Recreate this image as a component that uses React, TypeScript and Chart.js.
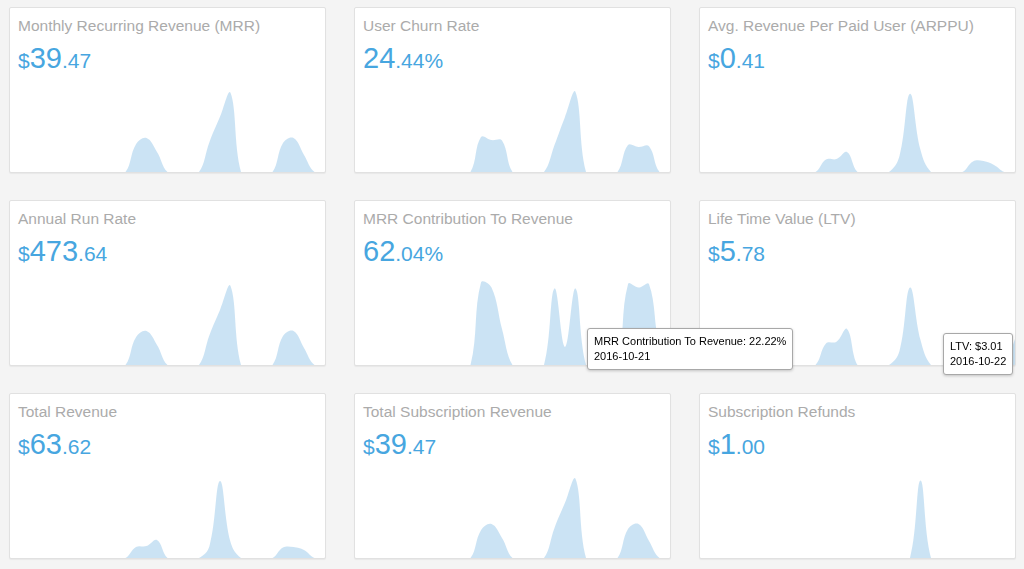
import React, { useEffect, useRef } from "react";
import { Chart, registerables } from "chart.js";

Chart.register(...registerables);

const dates = [
  "2016-09-22", "2016-09-23", "2016-09-24", "2016-09-25", "2016-09-26", "2016-09-27",
  "2016-09-28", "2016-09-29", "2016-09-30", "2016-10-01", "2016-10-02", "2016-10-03",
  "2016-10-04", "2016-10-05", "2016-10-06", "2016-10-07", "2016-10-08", "2016-10-09",
  "2016-10-10", "2016-10-11", "2016-10-12", "2016-10-13", "2016-10-14", "2016-10-15",
  "2016-10-16", "2016-10-17", "2016-10-18", "2016-10-19", "2016-10-20", "2016-10-21",
  "2016-10-22",
];

const mrrValues = [0, 0, 0, 0, 0, 0, 0, 0, 0, 0, 0, 0, 3.37, 4.11, 2.43, 0, 0, 0, 0, 3.64, 6.67, 9.57, 0, 0, 0, 0, 3.5, 4.11, 2.07, 0, 0];
const churnValues = [0, 0, 0, 0, 0, 0, 0, 0, 0, 0, 0, 0, 24.4, 22.3, 22.0, 0, 0, 0, 0, 18.8, 38.4, 55.8, 0, 0, 0, 0, 18.8, 17.4, 18.0, 0, 0];
const arppuValues = [0, 0, 0, 0, 0, 0, 0, 0, 0, 0, 0, 0, 0.32, 0.33, 0.51, 0, 0, 0, 0, 0.41, 2.0, 0.56, 0, 0, 0, 0, 0.27, 0.28, 0.18, 0, 0];
const arrValues = [0, 0, 0, 0, 0, 0, 0, 0, 0, 0, 0, 0, 40.44, 49.32, 29.16, 0, 0, 0, 0, 43.68, 80.04, 114.84, 0, 0, 0, 0, 42.0, 49.32, 24.84, 0, 0];
const mrrContributionValues = [0, 0, 0, 0, 0, 0, 0, 0, 0, 0, 0, 0, 96, 90, 42, 0, 0, 0, 0, 89, 21, 89, 0, 0, 0, 0, 94, 90, 94, 22.22, 0];
const ltvValues = [0, 0, 0, 0, 0, 0, 0, 0, 0, 0, 0, 0, 2.5, 2.7, 4.2, 0, 0, 0, 0, 1.63, 9.0, 2.9, 0, 0, 0, 0, 1.9, 2.0, 1.6, 0, 3.01];
const totalRevenueValues = [0, 0, 0, 0, 0, 0, 0, 0, 0, 0, 0, 0, 3.99, 4.35, 6.52, 0, 0, 0, 0, 4.35, 27.9, 5.8, 0, 0, 0, 0, 3.8, 3.99, 2.9, 0, 0];
const subscriptionRevenueValues = [0, 0, 0, 0, 0, 0, 0, 0, 0, 0, 0, 0, 3.37, 4.11, 2.43, 0, 0, 0, 0, 3.64, 6.67, 9.57, 0, 0, 0, 0, 3.5, 4.11, 2.07, 0, 0];
const refundValues = [0, 0, 0, 0, 0, 0, 0, 0, 0, 0, 0, 0, 0, 0, 0, 0, 0, 0, 0, 0, 0, 1.0, 0, 0, 0, 0, 0, 0, 0, 0, 0];

const cardTitles = [
  "Monthly Recurring Revenue (MRR)",
  "User Churn Rate",
  "Avg. Revenue Per Paid User (ARPPU)",
  "Annual Run Rate",
  "MRR Contribution To Revenue",
  "Life Time Value (LTV)",
  "Total Revenue",
  "Total Subscription Revenue",
  "Subscription Refunds",
];
const headlinePrefix = ["$", "", "$", "$", "", "$", "$", "$", "$"];
const headlineWhole = ["39", "24", "0", "473", "62", "5", "63", "39", "1"];
const headlineFraction = [".47", ".44", ".41", ".64", ".04", ".78", ".62", ".47", ".00"];
const headlineSuffix = ["", "%", "", "", "%", "", "", "", ""];
const cardSeries = [
  mrrValues, churnValues, arppuValues,
  arrValues, mrrContributionValues, ltvValues,
  totalRevenueValues, subscriptionRevenueValues, refundValues,
];
const cardYMax = [10.4, 60, 2.2, 125, 100, 10, 31.2, 10.4, 1.11];

const FONT = '"Liberation Sans", Arial, Helvetica, sans-serif';

function Sparkline({ values, yMax }: { values: number[]; yMax: number }) {
  const ref = useRef<HTMLCanvasElement>(null);
  useEffect(() => {
    const chart = new Chart(ref.current as HTMLCanvasElement, {
      type: "line",
      data: {
        labels: dates,
        datasets: [
          {
            data: values,
            fill: "origin",
            backgroundColor: "rgba(151,199,234,0.5)",
            borderColor: "rgba(151,199,234,0)",
            borderWidth: 0,
            pointRadius: 0,
            pointHoverRadius: 0,
            tension: 0.4,
          },
        ],
      },
      options: {
        animation: false,
        responsive: false,
        events: [],
        layout: { padding: 0 },
        plugins: { legend: { display: false }, tooltip: { enabled: false } },
        scales: {
          x: { display: false },
          y: { display: false, min: 0, max: yMax },
        },
      },
    });
    return () => chart.destroy();
  }, [values, yMax]);
  return (
    <canvas
      ref={ref}
      width={315}
      height={86}
      style={{ position: "absolute", left: 0, bottom: 0, width: 315, height: 86 }}
    />
  );
}

function Card({ i }: { i: number }) {
  const col = i % 3;
  const row = Math.floor(i / 3);
  return (
    <div
      style={{
        position: "absolute",
        left: 9 + col * 345,
        top: 7 + row * 193,
        width: 317,
        height: 166,
        boxSizing: "border-box",
        background: "#fff",
        border: "1px solid #e1e1e1",
        borderRadius: 2,
        boxShadow: "0 1px 1px rgba(0,0,0,0.05)",
        overflow: "hidden",
      }}
    >
      <div
        style={{
          position: "absolute",
          left: 8,
          top: 9,
          fontFamily: FONT,
          fontSize: 15.5,
          lineHeight: "18px",
          color: "#ababab",
          whiteSpace: "nowrap",
        }}
      >
        {cardTitles[i]}
      </div>
      <div
        style={{
          position: "absolute",
          left: 8,
          top: 36,
          fontFamily: FONT,
          fontSize: 29,
          lineHeight: "29px",
          color: "#47a6e0",
          whiteSpace: "nowrap",
        }}
      >
        <span style={{ fontSize: 21 }}>{headlinePrefix[i]}</span>
        <span>{headlineWhole[i]}</span>
        <span style={{ fontSize: 21 }}>
          {headlineFraction[i]}
          {headlineSuffix[i]}
        </span>
      </div>
      <Sparkline values={cardSeries[i]} yMax={cardYMax[i]} />
    </div>
  );
}

function Tip({ left, top, line1, line2 }: { left: number; top: number; line1: string; line2: string }) {
  return (
    <div
      style={{
        position: "absolute",
        left,
        top,
        zIndex: 5,
        background: "#fff",
        border: "1px solid #a8a8a8",
        borderRadius: 3,
        boxShadow: "0 1px 3px rgba(0,0,0,0.2)",
        padding: "5px 6px",
        fontFamily: FONT,
        fontSize: 11,
        lineHeight: "15px",
        color: "#000",
        whiteSpace: "nowrap",
      }}
    >
      <div>{line1}</div>
      <div>{line2}</div>
    </div>
  );
}

export default function App() {
  const contribIndex = 29;
  const ltvIndex = 30;
  return (
    <div
      style={{
        position: "absolute",
        left: 0,
        top: 0,
        width: 1024,
        height: 569,
        background: "#f4f4f4",
        overflow: "hidden",
      }}
    >
      {cardTitles.map((_, i) => (
        <Card key={i} i={i} />
      ))}
      <Tip
        left={587}
        top={328}
        line1={`${cardTitles[4]}: ${mrrContributionValues[contribIndex].toFixed(2)}%`}
        line2={dates[contribIndex]}
      />
      <Tip
        left={943}
        top={333}
        line1={`LTV: $${ltvValues[ltvIndex].toFixed(2)}`}
        line2={dates[ltvIndex]}
      />
    </div>
  );
}
